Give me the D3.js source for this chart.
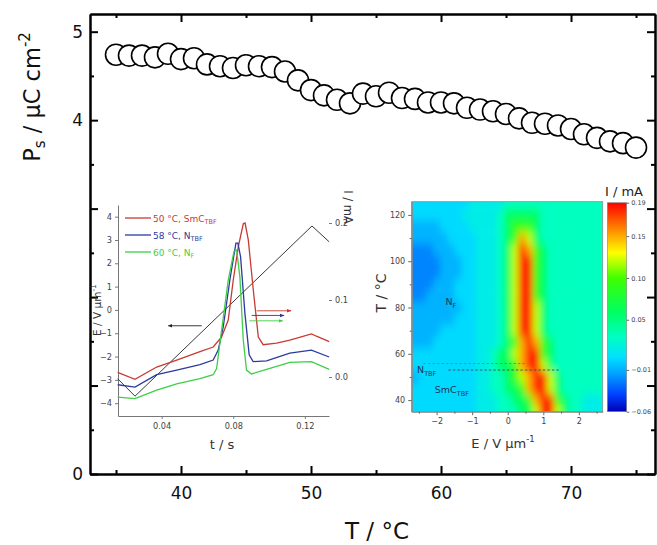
<!DOCTYPE html>
<meta charset="utf-8">
<style>
body { margin: 0; background: #fff; }
text { font-family: "DejaVu Sans", sans-serif; }
</style>
<body>
<script src="https://cdn.jsdelivr.net/npm/d3@7"></script>
<script>

// ---- main plot: Ps vs T ----
var temps = [35,36,37,38,39,40,41,42,43,44,45,46,47,48,49,50,51,52,53,54,55,
             56,57,58,59,60,61,62,63,64,65,66,67,68,69,70,71,72,73,74,75];
var ps = [4.74,4.73,4.73,4.71,4.75,4.69,4.70,4.63,4.61,4.59,4.62,4.61,4.60,4.55,4.45,
          4.34,4.28,4.23,4.19,4.30,4.27,4.31,4.25,4.24,4.20,4.20,4.19,4.14,4.12,4.10,
          4.07,4.02,3.97,3.96,3.94,3.90,3.84,3.80,3.76,3.74,3.69];
var xMajor = [40, 50, 60, 70];
var xMinor = [35, 45, 55, 65, 75];
var yMajor = [0, 1, 2, 3, 4, 5];
var yMinor = [0.5, 1.5, 2.5, 3.5, 4.5];
var yTickLabels = [0, 4, 5];

// ---- inset 1: current response ----
var redT  = [0.0154,0.0251,0.0372,0.0484,0.0614,0.0688,0.0735,0.0772,0.0800,0.0828,0.0856,0.0866,0.0884,0.0912,0.0940,0.0967,0.1042,0.1116,0.1237,0.1265,0.1336];
var redI  = [0.006,-0.003,0.013,0.022,0.033,0.039,0.052,0.074,0.126,0.169,0.199,0.200,0.178,0.113,0.052,0.042,0.044,0.048,0.056,0.053,0.046];
var blueT = [0.0154,0.0251,0.0372,0.0484,0.0614,0.0688,0.0716,0.0744,0.0781,0.0815,0.0826,0.0841,0.0865,0.0889,0.0911,0.0986,0.1116,0.1237,0.1336];
var blueI = [-0.010,-0.013,0.003,0.009,0.016,0.022,0.035,0.065,0.126,0.174,0.174,0.156,0.083,0.029,0.020,0.021,0.031,0.035,0.026];
var greenT = [0.0154,0.0251,0.0372,0.0484,0.0614,0.0688,0.0707,0.0735,0.0772,0.0804,0.0819,0.0837,0.0856,0.0874,0.0902,0.0986,0.1116,0.1237,0.1336];
var greenI = [-0.026,-0.028,-0.017,-0.009,-0.002,0.003,0.011,0.061,0.126,0.163,0.165,0.130,0.048,0.009,0.004,0.010,0.019,0.020,0.010];
var rampT = [0.0154, 0.0251, 0.1240, 0.1336];
var rampE = [-2.95, -3.70, 3.60, 2.92];
var legendNames = ["50 °C, SmC", "58 °C, N", "60 °C, N"];
var legendSubs = ["TBF", "TBF", "F"];
var seriesColors = ["#c83a32", "#2c3a9c", "#3ccf46"];
var eTicks = [-4,-3,-2,-1,0,1,2,3,4];
var tTicks = [0.04, 0.08, 0.12];
var iTicks = [0.0, 0.1, 0.2];

// ---- inset 2: current map I(E, T) ----
var hmE = [-2.6,-2.4,-2.2,-2.0,-1.8,-1.6,-1.4,-1.2,-1.0,-0.8,-0.6,-0.4,-0.2,0.0,
           0.2,0.4,0.6,0.8,1.0,1.2,1.4,1.6,1.8,2.0,2.2,2.4,2.6];
var hmT = [125,120,115,110,105,100,95,90,85,80,75,70,65,60,55,50,45,40,35];
var hmLevels = [-0.022,-0.009,0.003,0.015,0.03,0.06,0.09,0.12,0.15,0.18];
var hmRows = [
  "222222223333344444444444444",
  "222222233333455555444444444",
  "111122223333456665444444444",
  "111112222333456875444444444",
  "000111222333457986544444444",
  "000011122333457996544444444",
  "000011122333457996544444444",
  "000111222333457996544444444",
  "001111222333457996544444444",
  "111111122333457997544444444",
  "111111222333457997544444444",
  "111122222333457997544444444",
  "111222222333456898654444444",
  "222222222334557899654444444",
  "222222222334556899754444444",
  "122222222334456789975444444",
  "222222222334455689975444444",
  "222222222333445568996544333",
  "222222222333444557997544333"
];
var cbStops = [-0.06,-0.04,-0.015,0.005,0.03,0.06,0.10,0.13,0.16,0.19];
var cbColors = ["#0000b4","#0040ff","#00a0ff","#00e0ff","#00ffc0","#00ff60","#40ff00","#ffff00","#ff8000","#ff0000"];
var cbTicks = [-0.06,-0.01,0.05,0.10,0.15,0.19];
var hmXTicks = [-2,-1,0,1,2];
var hmXMinor = [-2.5,-1.5,-0.5,0.5,1.5,2.5];
var hmYTicks = [40,60,80,100,120];
var hmYMinor = [50,70,90,110];

var svg = d3.select("body").append("svg")
    .attr("width", 657)
    .attr("height", 545);

// ================= main plot =================
var x = d3.scaleLinear().domain([33, 76.46]).range([90, 655]);
var y = d3.scaleLinear().domain([0, 5.2]).range([474, 14]);

function styleAxis(g, sw) {
  g.select(".domain").attr("stroke", "#000").attr("stroke-width", sw);
  g.selectAll(".tick line").attr("stroke", "#000").attr("stroke-width", sw);
}

var gx = svg.append("g").attr("transform", "translate(0,474)")
    .call(d3.axisBottom(x).tickValues(xMajor).tickSize(-8).tickSizeOuter(0).tickPadding(13).tickFormat(d3.format("d")));
gx.selectAll("text").attr("font-size", 17).attr("fill", "#111");
styleAxis(gx, 2);
var gxm = svg.append("g").attr("transform", "translate(0,474)")
    .call(d3.axisBottom(x).tickValues(xMinor).tickSize(-4).tickSizeOuter(0).tickFormat(""));
styleAxis(gxm, 2);
var gxt = svg.append("g").attr("transform", "translate(0,14)")
    .call(d3.axisTop(x).tickValues(xMajor).tickSize(-8).tickSizeOuter(0).tickFormat(""));
styleAxis(gxt, 2);
var gxtm = svg.append("g").attr("transform", "translate(0,14)")
    .call(d3.axisTop(x).tickValues(xMinor).tickSize(-4).tickSizeOuter(0).tickFormat(""));
styleAxis(gxtm, 2);

var gy = svg.append("g").attr("transform", "translate(90,0)")
    .call(d3.axisLeft(y).tickValues(yMajor).tickSize(-8).tickSizeOuter(0).tickPadding(7)
      .tickFormat(function(d) { return yTickLabels.indexOf(d) >= 0 ? d : ""; }));
gy.selectAll("text").attr("font-size", 17).attr("fill", "#111");
styleAxis(gy, 2);
var gym = svg.append("g").attr("transform", "translate(90,0)")
    .call(d3.axisLeft(y).tickValues(yMinor).tickSize(-4).tickSizeOuter(0).tickFormat(""));
styleAxis(gym, 2);
var gyr = svg.append("g").attr("transform", "translate(655,0)")
    .call(d3.axisRight(y).tickValues(yMajor).tickSize(-8).tickSizeOuter(0).tickFormat(""));
styleAxis(gyr, 2);
var gyrm = svg.append("g").attr("transform", "translate(655,0)")
    .call(d3.axisRight(y).tickValues(yMinor).tickSize(-4).tickSizeOuter(0).tickFormat(""));
styleAxis(gyrm, 2);

// axis titles
var yt = svg.append("text")
    .attr("transform", "translate(40,97) rotate(-90)")
    .attr("text-anchor", "middle")
    .attr("font-size", 22.5)
    .attr("fill", "#111");
yt.append("tspan").text("P");
yt.append("tspan").attr("font-size", 15).attr("dy", 5).text("s");
yt.append("tspan").attr("dy", -5).text(" / \u00b5C cm");
yt.append("tspan").attr("font-size", 15).attr("dy", -10).text("-2");

svg.append("text")
    .attr("x", 377).attr("y", 539)
    .attr("text-anchor", "middle")
    .attr("font-size", 23)
    .attr("fill", "#111")
    .text("T / \u00b0C");

// data points
svg.append("g").selectAll("circle")
    .data(temps)
  .enter().append("circle")
    .attr("cx", function(d) { return x(d); })
    .attr("cy", function(d, i) { return y(ps[i]); })
    .attr("r", 10.5)
    .attr("fill", "#fff")
    .attr("stroke", "#000")
    .attr("stroke-width", 1.6);

// ================= inset 1 =================
var ix = d3.scaleLinear().domain([0.0156, 0.1335]).range([118, 329]);
var iyE = d3.scaleLinear().domain([-4.55, 4.5]).range([416, 205]);
var iyI = d3.scaleLinear().domain([-0.0506, 0.2234]).range([416, 205]);

function styleInset(g) {
  g.select(".domain").attr("stroke", "#777").attr("stroke-width", 1);
  g.selectAll(".tick line").attr("stroke", "#777");
  g.selectAll("text").attr("font-size", 8.2).attr("fill", "#444");
}

var i1 = svg.append("g");
var ixa = i1.append("g").attr("transform", "translate(0,416)")
    .call(d3.axisBottom(ix).tickValues(tTicks).tickSize(3).tickSizeOuter(0).tickPadding(4).tickFormat(d3.format(".2f")));
styleInset(ixa);
var iya = i1.append("g").attr("transform", "translate(118,0)")
    .call(d3.axisLeft(iyE).tickValues(eTicks).tickSize(3).tickSizeOuter(0).tickPadding(3).tickFormat(d3.format("d")));
styleInset(iya);
var iyr = i1.append("g").attr("transform", "translate(329,0)")
    .call(d3.axisRight(iyI).tickValues(iTicks).tickSize(3).tickSizeOuter(0).tickPadding(3).tickFormat(d3.format(".1f")));
styleInset(iyr);
iyr.select(".domain").remove();

var lineI = d3.line().x(function(d) { return ix(d[0]); }).y(function(d) { return iyI(d[1]); });
var lineE = d3.line().x(function(d) { return ix(d[0]); }).y(function(d) { return iyE(d[1]); });

i1.append("path")
    .attr("d", lineE(d3.zip(rampT, rampE)))
    .attr("fill", "none").attr("stroke", "#222").attr("stroke-width", 0.9);
[[redT, redI], [blueT, blueI], [greenT, greenI]].forEach(function(s, k) {
  i1.append("path")
      .attr("d", lineI(d3.zip(s[0], s[1])))
      .attr("fill", "none")
      .attr("stroke", seriesColors[k])
      .attr("stroke-width", 1.3);
});

// arrows (which axis each curve belongs to)
var defs = svg.append("defs");
["#222"].concat(seriesColors).forEach(function(c, k) {
  defs.append("marker")
      .attr("id", "arr" + k)
      .attr("viewBox", "0 0 10 10").attr("refX", 9).attr("refY", 5)
      .attr("markerWidth", 5).attr("markerHeight", 5)
      .attr("orient", "auto")
    .append("path").attr("d", "M0,1L10,5L0,9Z").attr("fill", c);
});
var arrows = [
  {t0: 0.0624, t1: 0.0437, v: -0.68, axis: "E", k: 0},
  {t0: 0.0931, t1: 0.1123, v: 0.086, axis: "I", k: 1},
  {t0: 0.0903, t1: 0.1084, v: 0.080, axis: "I", k: 2},
  {t0: 0.0890, t1: 0.1076, v: 0.073, axis: "I", k: 3}
];
arrows.forEach(function(a) {
  var yy = a.axis === "E" ? iyE(a.v) : iyI(a.v);
  i1.append("line")
      .attr("x1", ix(a.t0)).attr("x2", ix(a.t1))
      .attr("y1", yy).attr("y2", yy)
      .attr("stroke", a.k === 0 ? "#222" : seriesColors[a.k - 1])
      .attr("stroke-width", 0.9)
      .attr("marker-end", "url(#arr" + a.k + ")");
});

// legend
legendNames.forEach(function(n, k) {
  var ly = 218 + k * 17;
  i1.append("line").attr("x1", 125).attr("x2", 151).attr("y1", ly).attr("y2", ly)
      .attr("stroke", seriesColors[k]).attr("stroke-width", 1.3);
  var t = i1.append("text").attr("x", 153).attr("y", ly + 3.5)
      .attr("font-size", 9).attr("fill", seriesColors[k]);
  t.append("tspan").text(n);
  t.append("tspan").attr("font-size", 6.5).attr("dy", 2.5).text(legendSubs[k]);
});

// inset 1 titles
i1.append("text").attr("x", 222).attr("y", 449).attr("text-anchor", "middle")
    .attr("font-size", 13).attr("fill", "#333").text("t / s");
var et = i1.append("text").attr("transform", "translate(101,310) rotate(-90)")
    .attr("text-anchor", "middle").attr("font-size", 10.5).attr("fill", "#333");
et.append("tspan").text("E / V \u00b5m");
et.append("tspan").attr("font-size", 7.5).attr("dy", -5).text("-1");
i1.append("text").attr("transform", "translate(344,207) rotate(90)")
    .attr("text-anchor", "middle").attr("font-size", 11.5).attr("fill", "#333").text("I / mA");

// ================= inset 2: heat map =================
var hx = d3.scaleLinear().domain([-2.7, 2.67]).range([411.7, 602.7]);
var hy = d3.scaleLinear().domain([35, 125.7]).range([411.7, 201.7]);
var cy = d3.scaleLinear().domain([-0.06, 0.19]).range([411.7, 202.7]);
var color = d3.scaleLinear().domain(cbStops).range(cbColors).clamp(true);

defs.append("clipPath").attr("id", "hmclip")
  .append("rect")
    .attr("x", hx(-2.7)).attr("y", hy(125.7))
    .attr("width", hx(2.67) - hx(-2.7)).attr("height", hy(35) - hy(125.7));
var blur = defs.append("filter").attr("id", "hmblur")
    .attr("x", "-5%").attr("y", "-5%").attr("width", "110%").attr("height", "110%");
blur.append("feGaussianBlur").attr("stdDeviation", "3.4 4.8");

var cells = [];
hmRows.forEach(function(row, j) {
  for (var i = 0; i < hmE.length; i++) {
    cells.push({E: hmE[i], T: hmT[j], v: hmLevels[+row[i]], i: i, j: j});
  }
});
var hmG = svg.append("g").attr("clip-path", "url(#hmclip)")
  .append("g").attr("filter", "url(#hmblur)");
hmG.selectAll("rect").data(cells).enter().append("rect")
    .attr("x", function(d) { return hx(d.E - 0.1) - (d.i === 0 ? 14 : 0); })
    .attr("width", function(d) {
      return hx(d.E + 0.1) - hx(d.E - 0.1) + 0.6 + (d.i === 0 || d.i === hmE.length - 1 ? 14 : 0);
    })
    .attr("y", function(d) { return hy(d.T + 2.5) - (d.j === 0 ? 14 : 0); })
    .attr("height", function(d) {
      return hy(d.T - 2.5) - hy(d.T + 2.5) + 0.6 + (d.j === 0 || d.j === hmT.length - 1 ? 14 : 0);
    })
    .attr("fill", function(d) { return color(d.v); });

svg.append("rect")
    .attr("x", hx(-2.7)).attr("y", hy(125.7))
    .attr("width", hx(2.67) - hx(-2.7)).attr("height", hy(35) - hy(125.7))
    .attr("fill", "none").attr("stroke", "#8a8a8a").attr("stroke-width", 0.8);

// phase boundaries
svg.append("line")
    .attr("x1", hx(-2.37)).attr("x2", hx(0.72)).attr("y1", hy(55.8)).attr("y2", hy(55.8))
    .attr("stroke", "#6a7a80").attr("stroke-width", 0.8).attr("stroke-dasharray", "2.5,2");
svg.append("line")
    .attr("x1", hx(-1.67)).attr("x2", hx(1.47)).attr("y1", hy(53)).attr("y2", hy(53))
    .attr("stroke", "#3a4a55").attr("stroke-width", 0.9).attr("stroke-dasharray", "2.5,2");

// phase labels
var phaseLabels = [
  {E: -1.75, T: 82.5, main: "N", sub: "F"},
  {E: -2.55, T: 53.2, main: "N", sub: "TBF"},
  {E: -2.05, T: 44.5, main: "SmC", sub: "TBF"}
];
phaseLabels.forEach(function(p) {
  var t = svg.append("text").attr("x", hx(p.E)).attr("y", hy(p.T) + 3.5)
      .attr("font-size", 9.5).attr("fill", "#1e3560");
  t.append("tspan").text(p.main);
  t.append("tspan").attr("font-size", 6.5).attr("dy", 2.5).text(p.sub);
});

function styleHm(g) {
  g.select(".domain").attr("stroke", "#8a8a8a").attr("stroke-width", 0.8);
  g.selectAll(".tick line").attr("stroke", "#666");
  g.selectAll("text").attr("font-size", 8).attr("fill", "#444");
}
var hxa = svg.append("g").attr("transform", "translate(0,411.7)")
    .call(d3.axisBottom(hx).tickValues(hmXTicks).tickSize(3.5).tickSizeOuter(0).tickPadding(3).tickFormat(d3.format("d")));
styleHm(hxa);
var hxm = svg.append("g").attr("transform", "translate(0,411.7)")
    .call(d3.axisBottom(hx).tickValues(hmXMinor).tickSize(2).tickSizeOuter(0).tickFormat(""));
styleHm(hxm);
var hya = svg.append("g").attr("transform", "translate(411.7,0)")
    .call(d3.axisLeft(hy).tickValues(hmYTicks).tickSize(3.5).tickSizeOuter(0).tickPadding(3).tickFormat(d3.format("d")));
styleHm(hya);
var hym = svg.append("g").attr("transform", "translate(411.7,0)")
    .call(d3.axisLeft(hy).tickValues(hmYMinor).tickSize(2).tickSizeOuter(0).tickFormat(""));
styleHm(hym);

svg.append("text").attr("transform", "translate(386,293) rotate(-90)")
    .attr("text-anchor", "middle").attr("font-size", 14).attr("fill", "#333").text("T / \u00b0C");
var ht = svg.append("text").attr("x", 503).attr("y", 448).attr("text-anchor", "middle")
    .attr("font-size", 13).attr("fill", "#333");
ht.append("tspan").text("E / V \u00b5m");
ht.append("tspan").attr("font-size", 8.5).attr("dy", -6).text("-1");

// colour bar
var grad = defs.append("linearGradient").attr("id", "cbgrad")
    .attr("x1", 0).attr("y1", 1).attr("x2", 0).attr("y2", 0);
cbStops.forEach(function(s, k) {
  grad.append("stop")
      .attr("offset", (s - cbStops[0]) / (cbStops[cbStops.length - 1] - cbStops[0]))
      .attr("stop-color", cbColors[k]);
});
svg.append("rect")
    .attr("x", 607.3).attr("y", cy(0.19))
    .attr("width", 19.4).attr("height", cy(-0.06) - cy(0.19))
    .attr("fill", "url(#cbgrad)").attr("stroke", "#888").attr("stroke-width", 0.6);
var cba = svg.append("g").attr("transform", "translate(626.7,0)")
    .call(d3.axisRight(cy).tickValues(cbTicks).tickSize(2.5).tickSizeOuter(0).tickPadding(2).tickFormat(d3.format(".2f")));
cba.select(".domain").remove();
cba.selectAll(".tick line").attr("stroke", "#666");
cba.selectAll("text").attr("font-size", 6.5).attr("fill", "#444");
svg.append("text").attr("x", 624).attr("y", 196).attr("text-anchor", "middle")
    .attr("font-size", 13).attr("fill", "#222").text("I / mA");

</script>
</body>
